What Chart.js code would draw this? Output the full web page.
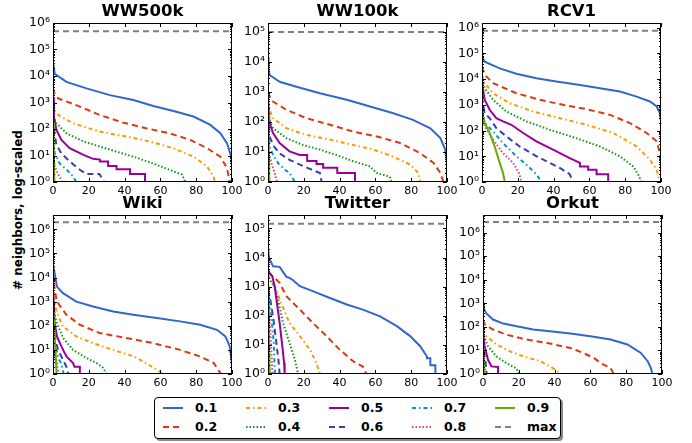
<!DOCTYPE html>
<html><head><meta charset="utf-8">
<script src="https://cdn.jsdelivr.net/npm/chart.js@4.4.0/dist/chart.umd.min.js"></script>
<style>
body{margin:0;background:#fff;width:692px;height:443px;position:relative;overflow:hidden;font-family:'DejaVu Sans';}
canvas{position:absolute;}
#ylab{position:absolute;left:18px;top:210px;transform:translate(-50%,-50%) rotate(-90deg);font-weight:bold;font-size:12px;white-space:nowrap;}
#legend{position:absolute;left:154px;top:397px;width:405px;height:40px;border:1px solid #000;border-radius:4px;box-shadow:2px 2px 0 #8a8a8a;background:#fff;}
#legend svg{position:absolute;}
#legend span{position:absolute;font-weight:bold;font-size:12.5px;line-height:16px;}
</style></head><body>
<div id="ylab"># neighbors, log-scaled</div>
<div id="legend"></div>
<script>
// ---------- data ----------
const SERIES_LABELS = ['0.1','0.2','0.3','0.4','0.5','0.6','0.7','0.8','0.9'];
const MAX_LABEL = 'max';
const TITLES = ['WW500k','WW100k','RCV1','Wiki','Twitter','Orkut'];
const MAX_VALUES = [4.9e5, 1.0e5, 7.5e5, 1.95e6, 1.45e5, 2.8e6];
const Y_TOPS = [1.0e6, 2.0e5, 1.5e6, 3.9e6, 2.9e5, 5.6e6];
const X_TICKS = [0,20,40,60,80,100];

// WW500k
const w5_01 = [[0,35000],[1,12000],[7.5,6000],[18.7,3400],[31.8,1900],[44.9,1250],[56,740],[67.3,480],[78.5,295],[87.9,143],[93.5,69],[97.2,29],[99.6,9],[100,5]];
const w5_02 = [[0,3400],[1,2000],[2.8,1440],[15,700],[26,340],[39,175],[52,107],[65,69],[76.6,39],[86,19],[93.5,9],[97.2,3.4],[98.5,1.2],[98.8,1],[99.2,1]];
const w5_03 = [[0,900],[1,500],[2.8,340],[11.2,165],[26,80],[41,52],[54,34],[67,19],[78.5,9],[86,3.9],[89.7,1.6],[90.5,1],[92,1]];
const w5_04 = [[0,300],[1.9,165],[7.5,69],[17,34],[26,22],[35.5,14],[45,9],[56,5],[65,2.9],[72,1.9],[74,1],[75,1]];
const w5_05 = [[0,1600],[0.5,300],[1.9,93],[4.7,39],[9.3,19],[17,10.5],[22.4,7.5],[26.2,7],[26.2,6],[30.8,6],[30.8,4],[35.5,4],[35.5,3],[43,3],[43,2],[51.4,2],[51.4,1],[67,1]];
const w5_06 = [[0,250],[1,60],[1.9,25],[4.7,12],[9.3,6],[15,2.9],[18.7,2],[26,2],[28.5,1],[30,1]];
const w5_07 = [[0,40],[1,12],[1.9,9],[3.7,5],[7.5,3],[11.2,1.6],[13,1],[14,1]];
const w5_08 = [[0,15],[1,4],[2.8,2],[4.7,1.2],[5,1],[5.5,1]];
const w5_09 = [[0,200],[0.4,20],[0.8,1],[1,1]];
// WW100k
const w1_01 = [[0,15000],[0.3,6000],[0.9,3700],[6.5,2200],[15.9,1500],[29,910],[44,550],[57,330],[70,195],[81,118],[90.7,62],[96.3,29],[99,12],[100,4.3]];
const w1_02 = [[0,1000],[1,700],[2.8,480],[10.3,255],[21.5,134],[34.6,81],[47.7,48],[60.7,33],[73.8,20],[85,9.2],[92.5,4.3],[96.3,2],[98,1],[99,1]];
const w1_03 = [[0,550],[1,250],[2.8,134],[10.3,62],[21.5,37],[34.6,26],[47.7,17],[59,12],[70,7],[79.4,3.8],[84,2],[85,1],[86,1]];
const w1_04 = [[0,250],[1,110],[2.8,62],[10.3,29],[19.6,17],[29,12],[38,8],[47.7,4.9],[57,3.3],[60.7,2],[68,1.5],[69,1],[70,1]];
const w1_05 = [[0,550],[0.9,92],[2.8,43],[6.5,20],[12,10.5],[17.8,8],[21.9,8],[21.9,5],[27.1,5],[27.1,4],[30.8,4],[30.8,3],[38.7,3],[38.7,2],[48.6,2],[48.6,1],[66.4,1]];
const w1_06 = [[0,150],[0.9,33],[2.8,17],[6.5,9],[12,5.5],[17.8,3.8],[23,2.8],[29,2],[30,1],[32,1]];
const w1_07 = [[0,60],[0.9,15],[2.8,8],[5.6,4.3],[9.3,2.6],[12,2],[15,1],[16,1]];
const w1_08 = [[0,12],[1.9,4.3],[3.7,2],[5,1],[5.5,1]];
const w1_09 = [[0,300],[0.4,30],[0.8,1],[1,1]];
// RCV1
const r_01 = [[0,74000],[1.5,47000],[9.9,26000],[19.2,16000],[30.4,10700],[41.6,8000],[54.7,5900],[65.9,4400],[77,3250],[86.4,2080],[93.8,1340],[97.6,860],[99.4,470],[100,225]];
const r_02 = [[0,30000],[1.5,14500],[6.2,6900],[19.2,2800],[32.3,1560],[45.3,1000],[58.4,675],[71.5,405],[82.6,195],[92,80],[97.6,38],[99.4,13],[100,4]];
const r_03 = [[0,14500],[1.5,6900],[6.2,2800],[15.5,1150],[28.5,550],[43.5,300],[58.4,167],[73.3,80],[86.4,24],[93.8,7.4],[97.6,3],[98.5,1.7],[99,1],[99.5,1]];
const r_04 = [[0,9300],[1.5,4400],[6.2,1560],[13.6,550],[24.8,225],[37.9,107],[52.8,50],[65.9,24],[77,10],[84.5,4],[87.3,1.9],[89.2,1],[90,1]];
const r_05 = [[0,6900],[1.5,1560],[4.3,640],[8,300],[11.8,225],[16.4,167],[23,80],[30.4,38],[39.7,18],[49,8.5],[54.7,5.5],[54.7,4],[59.3,4],[59.3,3],[64,3],[64,2],[70.5,2],[70.5,1],[80,1]];
const r_06 = [[0,2000],[1.5,470],[4.3,300],[8,124],[13.6,59],[21,24],[30.4,10],[37.9,5.5],[43.5,3.5],[49,2],[51,1],[56,1]];
const r_07 = [[0,900],[1.5,195],[6.2,92],[11.8,32],[19.2,10],[24.8,4.7],[30.4,2],[33.2,1],[34,1]];
const r_08 = [[0,600],[1.5,143],[6.2,44],[11.8,13],[17.4,5.5],[21,2],[22,1],[23,1]];
const r_09 = [[0,500],[1.5,195],[4.3,80],[7.1,24],[9.9,5.5],[11.8,2.2],[12.7,1],[13.5,1]];
// Wiki
const wk_01 = [[0,33000],[0.9,15000],[2.2,4200],[5.6,2240],[13,1000],[22.4,630],[33.6,390],[44.9,285],[58,208],[71,152],[82.2,110],[91.6,68],[96.3,36],[98.7,14],[100,2.9]];
const wk_02 = [[0,15000],[0.9,3100],[2.2,1000],[7.5,285],[15,110],[26,50],[41,31],[56,19],[71,10],[82,5.4],[89.7,2.9],[93.5,1.1],[94,1],[96,1]];
const wk_03 = [[0,5000],[0.9,870],[2.2,335],[5.6,94],[13,36],[22.4,19],[33.6,10],[45,5.4],[52,2.85],[60,1.2],[60.5,1],[62,1]];
const wk_04 = [[0,2000],[0.9,285],[2.2,130],[5.6,31],[11.2,10],[18.7,4.6],[24.3,2.85],[28,1.8],[30,1],[35,1]];
const wk_05 = [[0,3000],[0.9,130],[2.2,36],[4.7,14],[7.5,5.4],[11.2,2.85],[12,2],[15,2],[15,1],[24.3,1]];
const wk_06 = [[0,300],[0.9,36],[2.8,10],[5.6,3.9],[7.5,2],[8.5,1],[10,1]];
const wk_07 = [[0,100],[0.9,19],[2.8,5.4],[4.7,2.4],[6,1],[7,1]];
const wk_08 = [[0,40],[0.6,10],[1.9,3.9],[3,1],[3.5,1]];
const wk_09 = [[0,1000],[1,30],[2,1],[2.3,1]];
// Twitter
const tw_01 = [[0,21600],[0.6,9800],[2.8,5000],[6.5,4800],[10.3,2180],[12,2000],[14,1660],[17.8,1040],[25,700],[34.6,410],[44,245],[53,163],[62.6,96],[72,44],[79.4,20],[85,9],[88.8,4],[88.8,3.5],[90.7,3.5],[90.7,2],[93.5,2],[93.5,1],[95,1]];
const tw_02 = [[0,3000],[3.7,2000],[6.5,1350],[10.3,470],[17.8,163],[25,57],[32.7,20],[40,6.9],[47.7,2.7],[53,1.8],[55,1],[64.5,1]];
const tw_03 = [[0,2500],[4.7,800],[6.5,360],[12,57],[17.8,20],[23.4,6.9],[27,2.4],[29,1],[30,1]];
const tw_04 = [[0,2000],[3.7,1040],[5.6,360],[8.4,57],[12,11.7],[15,3.1],[15.9,1.8],[16.8,1],[18,1]];
const tw_05 = [[0,3900],[0.9,3000],[2.4,2300],[3.7,1040],[5,275],[6.5,57],[8,9],[9,2.4],[9.3,1],[9.6,1]];
const tw_06 = [[0,800],[0.9,500],[2.8,96],[4.7,11.7],[6,2.4],[6.5,1],[7,1]];
const tw_07 = [[0,800],[1.9,96],[3.2,12],[3.7,1.8],[4,1],[4.3,1]];
const tw_08 = [[0,400],[1.3,33],[2,4],[2.5,1],[2.8,1]];
const tw_09 = [[0,500],[0.5,20],[1,1],[1.2,1]];
// Orkut
const ok_01 = [[0,1450],[0.6,550],[1.9,370],[5.6,205],[11.3,138],[18.8,107],[28,77],[37.5,65],[48.8,52],[60,40],[71.3,29],[80.7,18],[88.2,7.8],[92,3.5],[93.8,1.8],[94.6,1],[95,1]];
const ok_02 = [[0,200],[1,125],[5.6,77],[13,47],[24.4,29],[37.5,19.5],[48.8,12.7],[56,7.8],[62,4.8],[65.7,2.9],[71.3,1.8],[73,1],[79,1]];
const ok_03 = [[0,80],[1.9,40],[7.5,18],[15,9.2],[22.5,5.6],[32,3.5],[37.5,2.1],[44,1],[45,1]];
const ok_04 = [[0,60],[0.6,40],[2.8,15],[7.5,5.6],[13,2.9],[18.8,1.7],[20,1],[22,1]];
const ok_05 = [[0,60],[0.9,15],[2.8,4],[4.7,2.1],[8.4,2],[8.4,1],[15,1]];
const ok_06 = [[0,25],[0.4,10],[1.5,2.9],[2,1],[3.4,1]];
const ok_07 = [[0,10],[0.2,5],[1.5,1],[1.8,1]];
const ok_08 = [[0,6],[0.2,3],[1,1],[1.2,1]];
const ok_09 = [[0,5],[0.5,1],[0.8,1]];

const PANEL_SERIES = [
  [w5_01,w5_02,w5_03,w5_04,w5_05,w5_06,w5_07,w5_08,w5_09],
  [w1_01,w1_02,w1_03,w1_04,w1_05,w1_06,w1_07,w1_08,w1_09],
  [r_01,r_02,r_03,r_04,r_05,r_06,r_07,r_08,r_09],
  [wk_01,wk_02,wk_03,wk_04,wk_05,wk_06,wk_07,wk_08,wk_09],
  [tw_01,tw_02,tw_03,tw_04,tw_05,tw_06,tw_07,tw_08,tw_09],
  [ok_01,ok_02,ok_03,ok_04,ok_05,ok_06,ok_07,ok_08,ok_09]
];

// ---------- styles ----------
const SERIES_COLORS = ['#3366CC','#DC3912','#FF9900','#109618','#990099','#3B3EAC','#0099C6','#DD4477','#66AA00'];
const DASHES = [[],[6,4],[4,3,1.5,3],[1.5,2],[],[6,4],[4,3,1.5,3],[1.5,2],[]];
const MAX_COLOR = '#808080';
const MAX_DASH = [6,4];
// canvas placement (left, top) for each panel
const POS = [[0,0],[215,0],[429,0],[0,192],[215,192],[430,192]];

Chart.defaults.font.family = "'DejaVu Sans'";
Chart.defaults.color = '#000';
Chart.defaults.animation = false;

const SUP = '⁰¹²³⁴⁵⁶⁷⁸⁹';
function supNum(n){ return String(n).split('').map(c=>SUP[+c]).join(''); }

const framePlugin = {
  id:'frame',
  afterDatasetsDraw(chart){
    const {ctx, chartArea:a, scales:{x,y}} = chart;
    ctx.save();
    ctx.strokeStyle = '#000'; ctx.lineWidth = 1; ctx.setLineDash([]);
    ctx.beginPath();
    for (let e=0; Math.pow(10,e) <= y.max; e++){
      for (let m=1; m<10; m++){
        const v = m*Math.pow(10,e);
        if (v > y.max) break;
        const py = Math.round(y.getPixelForValue(v)) + 0.5;
        const len = m===1 ? 4 : 2;
        ctx.moveTo(a.left, py); ctx.lineTo(a.left+len, py);
        ctx.moveTo(a.right, py); ctx.lineTo(a.right-len, py);
      }
    }
    X_TICKS.forEach(v=>{
      const px = Math.round(x.getPixelForValue(v)) + 0.5;
      ctx.moveTo(px, a.bottom); ctx.lineTo(px, a.bottom-4);
      ctx.moveTo(px, a.top); ctx.lineTo(px, a.top+4);
    });
    ctx.stroke();
    ctx.strokeRect(Math.round(a.left)+0.5, Math.round(a.top)+0.5, Math.round(a.right-a.left)-1, Math.round(a.bottom-a.top)-1);
    ctx.restore();
  }
};

PANEL_SERIES.forEach((series, p)=>{
  const cv = document.createElement('canvas');
  cv.width = 250; cv.height = 200;
  cv.style.left = POS[p][0]+'px'; cv.style.top = POS[p][1]+'px';
  cv.style.width = '250px'; cv.style.height = '200px';
  document.body.appendChild(cv);
  const datasets = series.map((arr,i)=>({
    label: SERIES_LABELS[i],
    data: arr.map(([x,y])=>({x,y})),
    borderColor: SERIES_COLORS[i],
    borderDash: DASHES[i],
    borderWidth: 2,
    pointRadius: 0,
    fill: false,
    tension: 0,
    order: 10 - i
  }));
  datasets.push({
    label: MAX_LABEL,
    data: [{x:0,y:MAX_VALUES[p]},{x:100,y:MAX_VALUES[p]}],
    borderColor: MAX_COLOR, borderDash: MAX_DASH, borderWidth: 2,
    pointRadius: 0, fill:false, order: 1
  });
  new Chart(cv, {
    type:'line',
    data:{datasets},
    plugins:[framePlugin],
    options:{
      responsive:false,
      animation:false,
      layout:{padding:{left:0,right:18,top:0,bottom:0}},
      plugins:{
        legend:{display:false},
        tooltip:{enabled:false},
        title:{display:true, text:TITLES[p], fullSize:false, color:'#000',
               font:{size:16.5, weight:'bold', lineHeight:'20px'}, padding:{top:2,bottom:1}}
      },
      scales:{
        x:{type:'linear', min:0, max:100,
           afterBuildTicks: s=>{ s.ticks = X_TICKS.map(v=>({value:v})); },
           ticks:{font:{size:11}, padding:3, maxRotation:0, autoSkip:false},
           grid:{display:false, drawTicks:false}, border:{display:false},
           afterFit: s=>{ s.height = 18; }},
        y:{type:'logarithmic', min:1, max:Y_TOPS[p],
           afterBuildTicks: s=>{ const t=[]; for(let e=0; Math.pow(10,e)<=Y_TOPS[p]; e++) t.push({value:Math.pow(10,e)}); s.ticks=t; },
           ticks:{font:{size:12.5}, padding:3, autoSkip:false,
                  callback: v=>'10'+supNum(Math.round(Math.log10(v)))},
           grid:{display:false, drawTicks:false}, border:{display:false},
           afterFit: s=>{ s.width = 53; }}
      }
    }
  });
});

// ---------- legend ----------
const leg = document.getElementById('legend');
const items = SERIES_LABELS.map((l,i)=>({label:l, color:SERIES_COLORS[i], dash:DASHES[i]}))
  .concat([{label:MAX_LABEL, color:MAX_COLOR, dash:MAX_DASH}]);
items.forEach((it,k)=>{
  const col = Math.floor(k/2), row = k%2;
  const cy = row ? 29 : 10;
  const svg = document.createElementNS('http://www.w3.org/2000/svg','svg');
  svg.setAttribute('width','22'); svg.setAttribute('height','10');
  svg.style.left = (7+83*col)+'px'; svg.style.top = (cy-5)+'px';
  const ln = document.createElementNS('http://www.w3.org/2000/svg','line');
  ln.setAttribute('x1','1'); ln.setAttribute('x2','21'); ln.setAttribute('y1','5'); ln.setAttribute('y2','5');
  ln.setAttribute('stroke', it.color); ln.setAttribute('stroke-width','2');
  if (it.dash.length) ln.setAttribute('stroke-dasharray', it.dash.join(' '));
  svg.appendChild(ln);
  leg.appendChild(svg);
  const sp = document.createElement('span');
  sp.textContent = it.label;
  sp.style.left = (40+83*col)+'px'; sp.style.top = (cy-8)+'px';
  leg.appendChild(sp);
});
</script>
</body></html>
